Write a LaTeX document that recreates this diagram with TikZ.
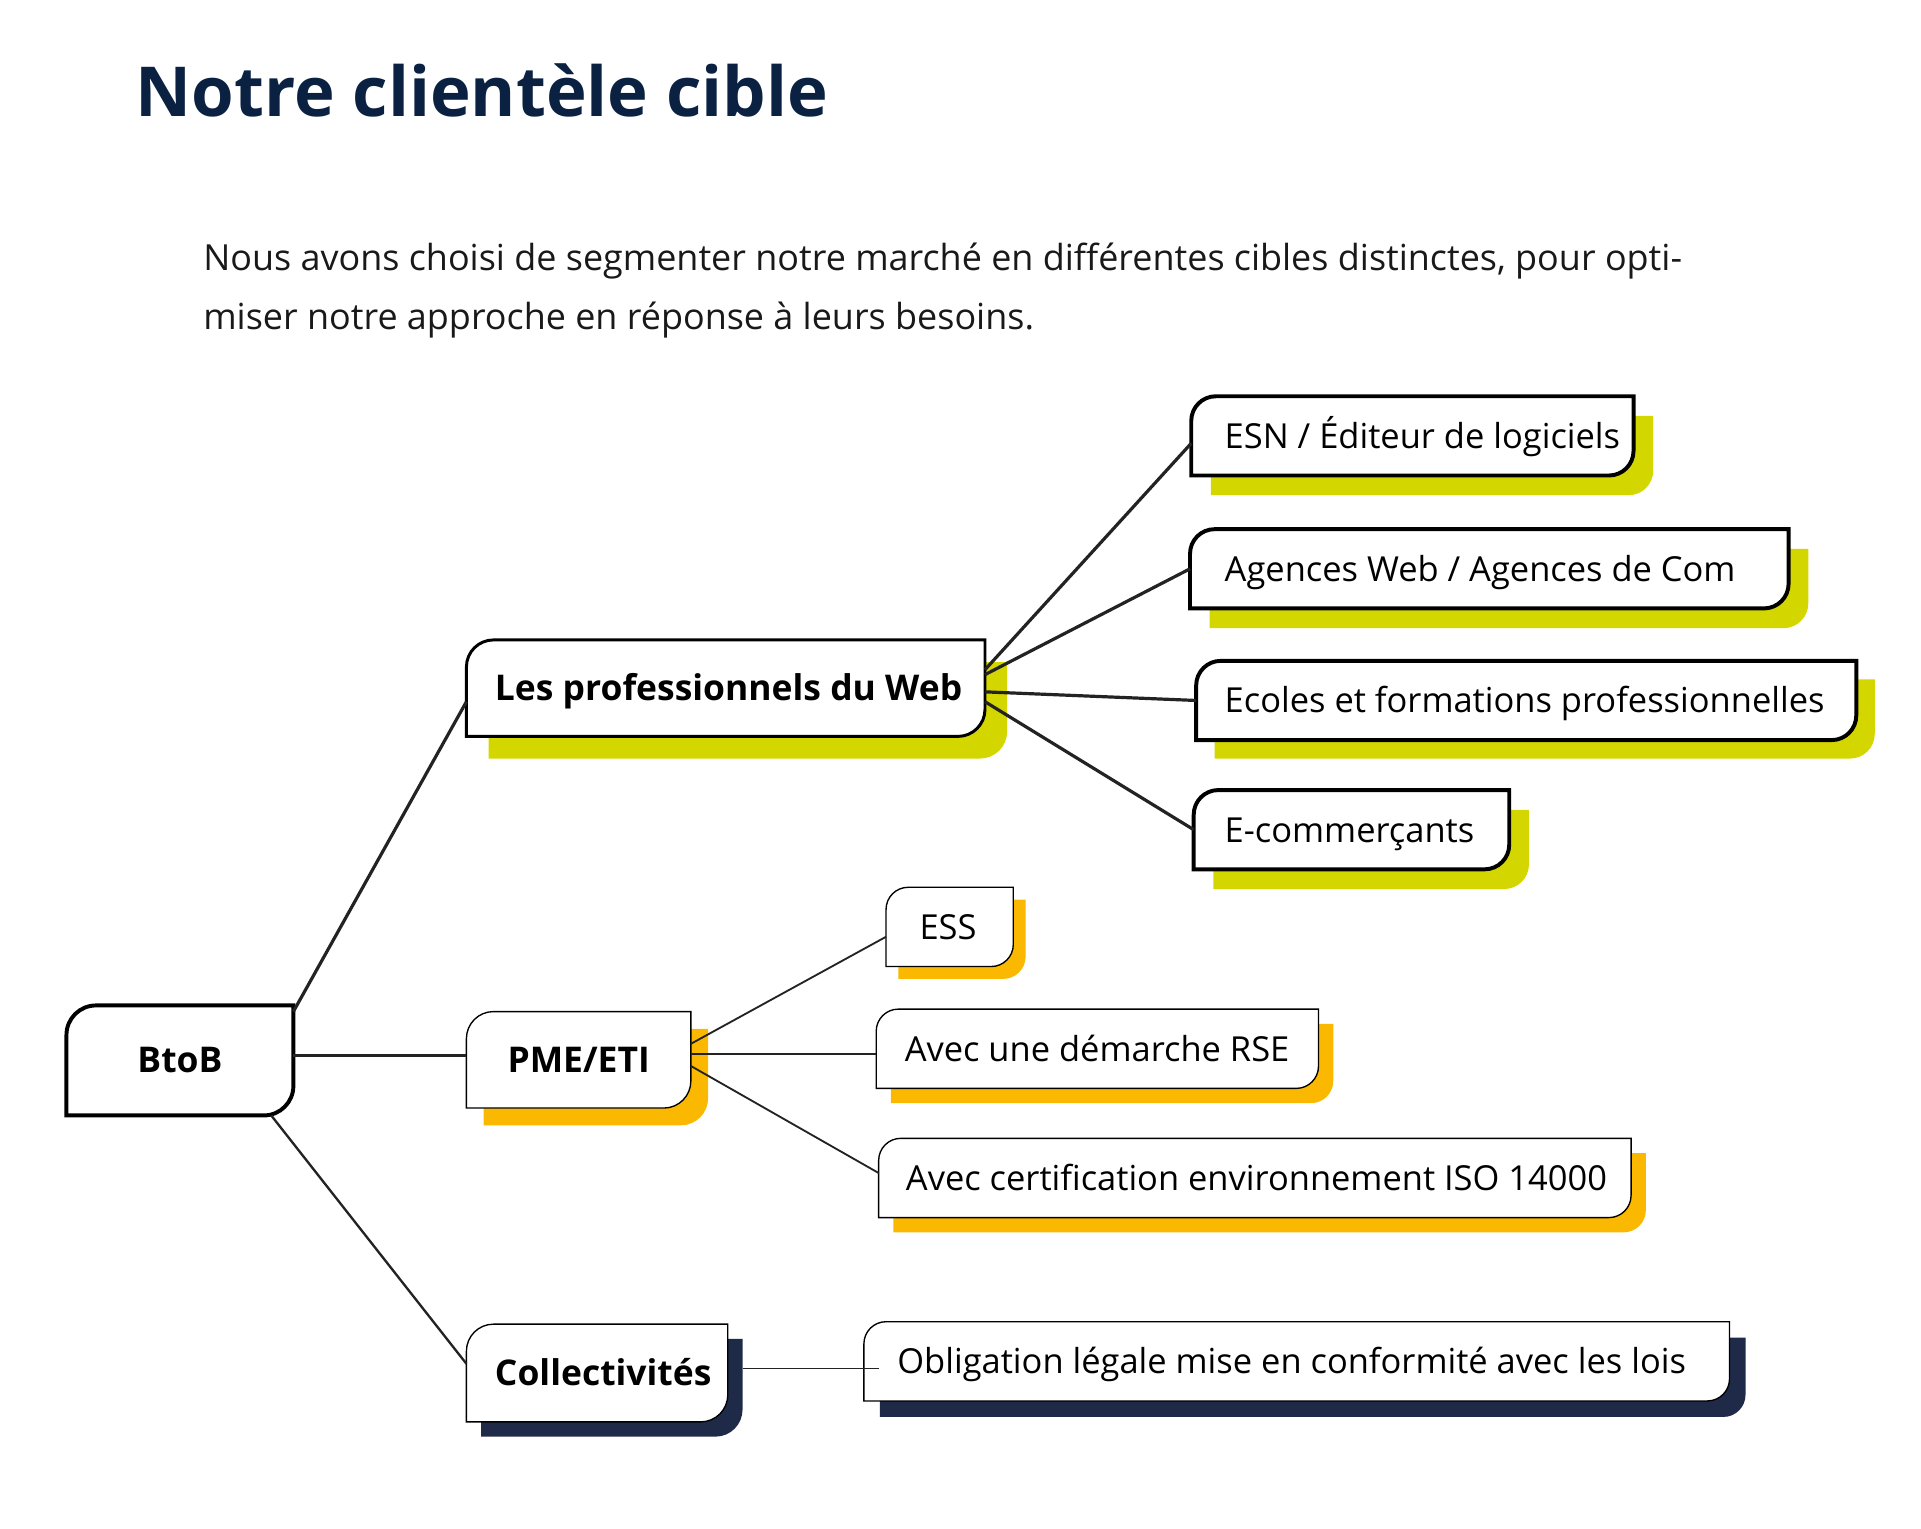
\documentclass[tikz,border=0pt]{standalone}
\usepackage{fontspec}
\setmainfont{Open Sans}
\usetikzlibrary{backgrounds}

\definecolor{webgreen}{HTML}{D4D600}
\definecolor{pmeorange}{HTML}{FBB800}
\definecolor{collnavy}{HTML}{1F2A48}
\definecolor{titlenavy}{HTML}{0B2142}
\definecolor{linkgray}{HTML}{232323}

\tikzset{
  tab/.style={inner sep=0pt, anchor=north west, text height=20pt, text depth=0pt,
    font=\fontsize{28}{34}\selectfont},
  hub/.style={tab, font=\fontsize{28.8}{34}\selectfont\bfseries},
  link/.style={draw=linkgray, line width=#1},
  link/.default=1.5pt
}

\begin{document}
\begin{tikzpicture}[x=1pt, y=1pt]
			\useasboundingbox (0,0) rectangle (1561,-1241.7);
			% Title and intro text
			\node[anchor=base west, inner sep=0pt, text=titlenavy, font=\fontsize{56}{68}\selectfont\bfseries] (title) at (110,-95) {Notre clientèle cible};
			\node[anchor=north west, inner sep=0pt, align=left, text=black!90, font=\fontsize{29.2}{48}\selectfont] (intro) at (165,-197)
				{Nous avons choisi de segmenter notre marché en différentes cibles distinctes, pour opti-\\miser notre approche en réponse à leurs besoins.};
			% Main branches
			\node[hub, minimum height=89pt] (btob) at (54,-817) {\makebox[184pt]{BtoB}};
			\node[hub, minimum height=78pt] (web) at (379,-520) {\makebox[421pt][l]{\hspace{23pt}Les professionnels du Web}};
			\node[hub, minimum height=78pt] (pme) at (379,-822) {\makebox[182pt]{PME/ETI}};
			\node[hub, minimum height=79pt] (coll) at (379,-1076) {\makebox[212pt][l]{\hspace{23pt}Collectivités}};
			% Target segments
			\foreach \n/\x/\y/\w/\p/\t in {esn/968/322/359/27/{ESN / Éditeur de logiciels},
				agences/967/430/486/28/{Agences Web / Agences de Com},
				ecoles/972/537/536/23/{Ecoles et formations professionnelles},
				ecom/970/642/256/25/{E-commerçants},
				ess/720/721/103/27/{ESS},
				rse/712/820/359/23/{Avec une démarche RSE},
				iso/714/925/611/22/{Avec certification environnement ISO 14000},
				oblig/702/1074/703/27/{Obligation légale mise en conformité avec les lois}} {
				\node[tab, minimum height=64pt] (\n) at (\x,-\y) {\makebox[\w pt][l]{\hspace{\p pt}\t}};
			}
			% Cards and their coloured shadows
			\begin{scope}[on background layer]
				\foreach \n/\c/\d/\r/\lw in {btob/white/0/24/3.2, web/webgreen/18/22/2.4, pme/pmeorange/14/22/1.1,
					coll/collnavy/12/22/1.1, esn/webgreen/16/20/3.2, agences/webgreen/16/20/3.2,
					ecoles/webgreen/15/20/3.2, ecom/webgreen/16/20/3.2, ess/pmeorange/10/18/1.1,
					rse/pmeorange/12/18/1.1, iso/pmeorange/12/18/1.1, oblig/collnavy/13/18/1.1} {
					\fill[\c] ([shift={(\d,-\d)}]\n.north west) -- ([shift={(\d,-\d)}]\n.north east)
						-- ([shift={(\d,-\d+\r)}]\n.south east) arc[start angle=0, end angle=-90, radius=\r]
						-- ([shift={(\d,-\d)}]\n.south west) -- cycle;
					\draw[line width=\lw pt, fill=white] (\n.south west) -- ([yshift=-\r pt]\n.north west)
						arc[start angle=180, end angle=90, radius=\r] -- (\n.north east)
						-- ([yshift=\r pt]\n.south east) arc[start angle=0, end angle=-90, radius=\r] -- cycle;
				}
			\end{scope}
			% Connectors from BtoB
			\draw[link=2.6pt] ([yshift=-5pt]btob.north east) -- ([yshift=-11pt]web.west);
			\draw[link=2.2pt] ([yshift=4pt]btob.east) -- ([yshift=4pt]btob.east -| pme.west);
			\draw[link=1.9pt] ([xshift=-18pt]btob.south east) -- ([yshift=7.5pt]coll.west);
			% Connectors to the segments
			\foreach \t/\s/\e in {esn/15/-6, agences/11/0, ecoles/-3/0, ecom/-11/0} {
				\draw[link=2.6pt] ([yshift=\s pt]web.east) -- ([yshift=\e pt]\t.west);
			}
			\draw[link] ([yshift=13pt]pme.east) -- ([yshift=-8pt]ess.west);
			\draw[link] ([yshift=5pt]pme.east) -- ([yshift=5pt]pme.east -| rse.west);
			\draw[link] ([yshift=-5pt]pme.east) -- ([yshift=4pt]iso.west);
			\draw[link=0.9pt] ([shift={(12pt,3.5pt)}]coll.east) -- ([shift={(12pt,3.5pt)}]coll.east -| oblig.west);
\end{tikzpicture}
\end{document}
